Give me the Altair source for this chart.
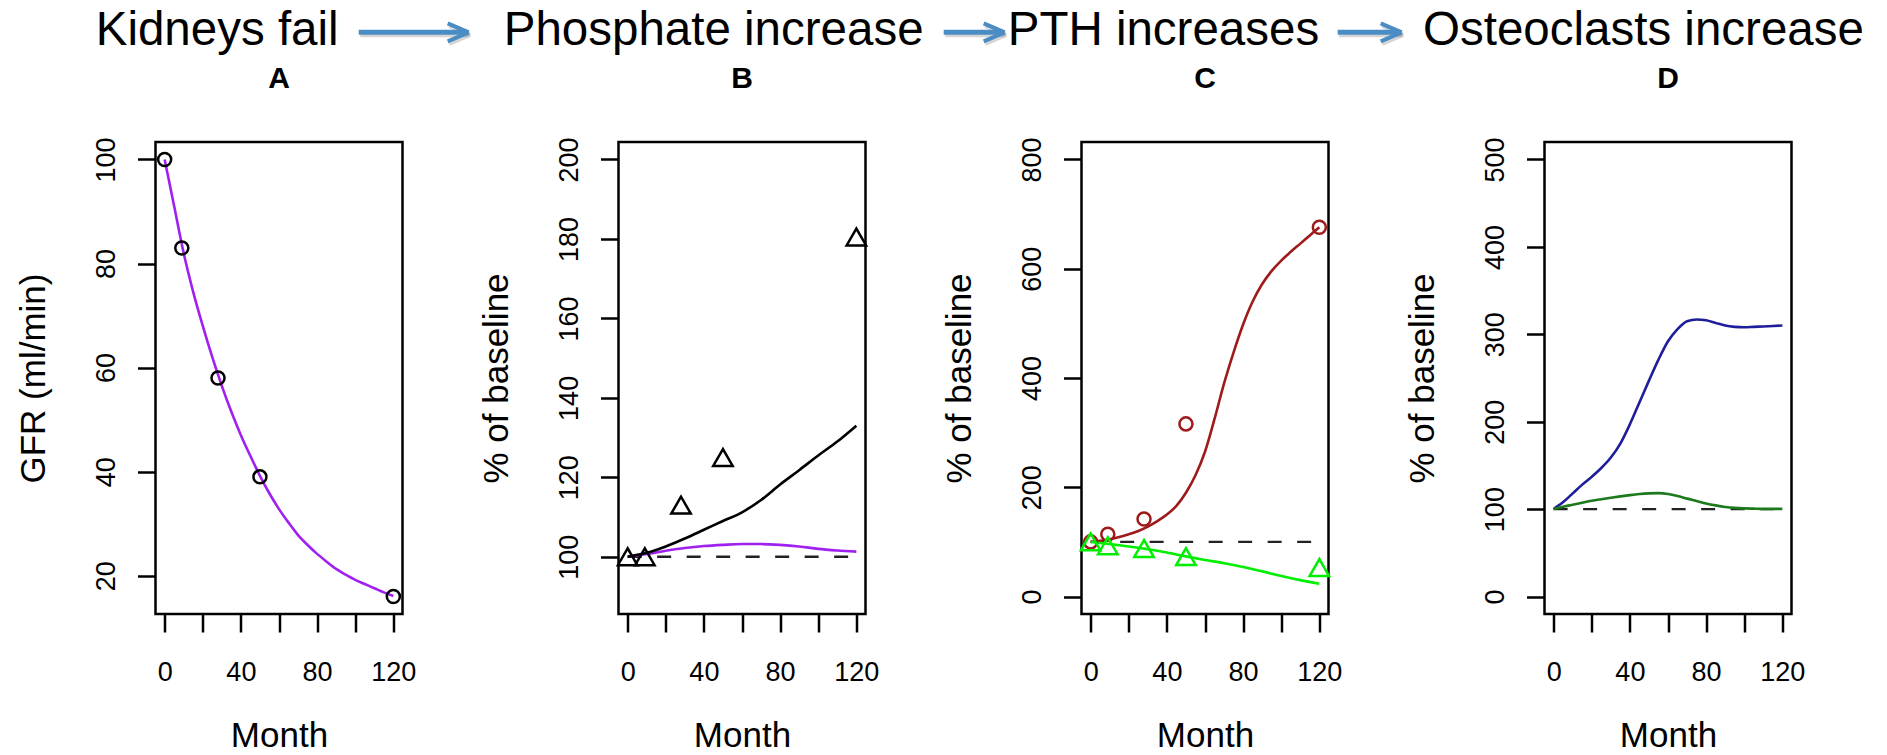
import altair as alt
import pandas as pd

FONT = "Liberation Sans"

# ---------------- data ----------------
obs_months = [0, 9, 28, 50, 120]
gfr_obs = [100, 83, 58, 39, 16]
phosphate_obs = [100, 100, 113, 125, 180.5]
pth_obs = [100, 114, 142, 316, 676]
calcium_obs = [100, 93, 88, 73, 53]

fine_months = [0, 5, 10, 15, 20, 25, 30, 35, 40, 45, 50, 55, 60,
               65, 70, 75, 80, 85, 90, 95, 100, 105, 110, 115, 120]
gfr_fit = [100, 91, 82, 74.5, 68, 62, 56.5, 51.5, 47, 43, 39.2, 35.8, 32.8,
           30.2, 27.8, 25.9, 24.2, 22.7, 21.3, 20.2, 19.2, 18.4, 17.6, 16.8, 16.1]
pth_fit = [100, 102, 105, 109, 114, 120, 128, 138, 150, 166, 190, 222, 265,
           325, 390, 447, 498, 540, 572, 596, 615, 631, 646, 661, 676]
osteoclast_fit = [100, 108, 118, 128, 137, 147, 159, 175, 197, 222, 247, 271, 292,
                  306, 315, 317, 316, 313, 310, 308.5, 308, 308.5, 309, 309.5, 310]
osteoblast_fit = [100, 102.7, 105, 107.3, 109.5, 111.3, 113, 114.6, 116, 117.2, 118, 118.3, 117.3,
                  115, 112, 109.3, 106.5, 104.3, 102.5, 101.4, 100.8, 100.5, 100.3, 100.3, 100.3]

coarse_months = [0, 10, 20, 30, 40, 50, 60, 70, 80, 90, 100, 110, 120]
phosphate_fit = [100, 101, 102.6, 104.6, 106.8, 109, 111.2, 114.3, 118.2, 121.8, 125.5, 129, 133]
phosphate_gfr_fit = [100, 100.7, 101.5, 102.2, 102.7, 103.0, 103.2, 103.2, 103.0, 102.6, 102.0, 101.6, 101.3]
calcium_fit = [100, 96, 91.5, 86.5, 80.5, 73.5, 67, 61, 54, 46, 37.5, 30, 23.5]

baseline_months = [0, 120]
baseline_vals = [100, 100]

header_texts = ["Kidneys fail", "Phosphate increase", "PTH increases", "Osteoclasts increase"]
panel_letters = ["A", "B", "C", "D"]
x_ticks = [0, 20, 40, 60, 80, 100, 120]

# ---------------- layout ----------------
W, H = 247, 472
XDOM = [-4.8, 124.8]
ARROW = "#4A8CC4"
PURPLE = "#A020F0"
HEAD_SIZE = 47.5
SHIFT = -2.5


def xenc():
    return alt.X("month:Q", scale=alt.Scale(domain=XDOM, nice=False, zero=False),
                 axis=alt.Axis(values=x_ticks,
                               labelExpr="datum.value % 40 === 0 ? datum.label : ''",
                               title="Month", titleX=W / 2, titleY=132, titleAngle=0,
                               titleAlign="center", titleBaseline="alphabetic",
                               labelPadding=48, labelBaseline="alphabetic", labelAlign="center"))


def yenc(dom, ticks, title):
    return alt.Y("value:Q", scale=alt.Scale(domain=dom, nice=False, zero=False),
                 axis=alt.Axis(values=ticks, title=title,
                               labelAngle=270, labelAlign="center", labelBaseline="alphabetic",
                               labelPadding=23,
                               titleAngle=270, titleX=-111, titleY=H / 2,
                               titleAlign="center", titleBaseline="alphabetic"))


def line(months, vals, y, color, width=2.6, dash=None):
    df = pd.DataFrame({"month": months, "value": vals})
    kw = dict(color=color, strokeWidth=width, interpolate="monotone")
    if dash:
        kw["strokeDash"] = dash
        kw["interpolate"] = "linear"
    return alt.Chart(df).mark_line(**kw).encode(x=xenc(), y=y)


def points(months, vals, y, color, shape):
    df = pd.DataFrame({"month": months, "value": vals})
    size = 170 if shape == "circle" else 380
    return alt.Chart(df).mark_point(shape=shape, filled=False, size=size,
                                    strokeWidth=2.5, color=color, opacity=1).encode(x=xenc(), y=y)


def dashed(y):
    return line(baseline_months, baseline_vals, y, "#222222", width=2.4, dash=[14, 15.5])


def text_layer(txt, x, y, size, weight="normal", align="left"):
    return alt.Chart(pd.DataFrame({"t": [txt]})).mark_text(
        font=FONT, fontSize=size, fontWeight=weight, align=align,
        baseline="alphabetic", color="black").encode(
        x=alt.value(x), y=alt.value(y), text="t:N")


def seg(x0, y0, x1, y1, color, width, opacity=1.0):
    return alt.Chart(pd.DataFrame({"a": [0]})).mark_rule(
        color=color, strokeWidth=width, strokeCap="butt", opacity=opacity).encode(
        x=alt.value(x0), y=alt.value(y0), x2=alt.value(x1), y2=alt.value(y1))


def arrow(x0, x1, y=-109.7):
    x0 += SHIFT
    x1 += SHIFT
    layers = []
    for dx, dy, col, op in [(1.5, 2.5, "#888888", 0.35), (0, 0, ARROW, 1.0)]:
        layers.append(seg(x0 + dx, y + dy, x1 - 2 + dx, y + dy, col, 5, op))
        layers.append(seg(x1 + dx, y + dy, x1 - 21 + dx, y - 9 + dy, col, 4, op))
        layers.append(seg(x1 + dx, y + dy, x1 - 21 + dx, y + 9 + dy, col, 4, op))
    return layers


def header(txt, x):
    return text_layer(txt, x + SHIFT, -97.3, HEAD_SIZE)


def label(letter):
    return text_layer(letter, W / 2, -54.5, 30, weight="bold", align="center")


# Panel A
yA = yenc([12.64, 103.36], [20, 40, 60, 80, 100], "GFR (ml/min)")
pA = alt.layer(
    line(fine_months, gfr_fit, yA, PURPLE),
    points(obs_months, gfr_obs, yA, "black", "circle"),
    label(panel_letters[0]),
    header(header_texts[0], -57.3),
    *arrow(205.7, 315.7),
).properties(width=W, height=H)

# Panel B
yB = yenc([85.6, 204.4], [100, 120, 140, 160, 180, 200], "% of baseline")
pB = alt.layer(
    dashed(yB),
    line(coarse_months, phosphate_gfr_fit, yB, PURPLE),
    line(coarse_months, phosphate_fit, yB, "black"),
    points(obs_months, phosphate_obs, yB, "black", "triangle-up"),
    label(panel_letters[1]),
    header(header_texts[1], -112.3),
    *arrow(327.7, 388.7),
).properties(width=W, height=H)

# Panel C
yC = yenc([-32, 832], [0, 200, 400, 600, 800], "% of baseline")
pC = alt.layer(
    dashed(yC),
    line(fine_months, pth_fit, yC, "#9E1B1B"),
    line(coarse_months, calcium_fit, yC, "#00EE00"),
    points(obs_months, pth_obs, yC, "#9E1B1B", "circle"),
    points(obs_months, calcium_obs, yC, "#00EE00", "triangle-up"),
    label(panel_letters[2]),
    header(header_texts[2], -71.3),
    *arrow(258.7, 322.7),
).properties(width=W, height=H)

# Panel D
yD = yenc([-20, 520], [0, 100, 200, 300, 400, 500], "% of baseline")
pD = alt.layer(
    dashed(yD),
    line(fine_months, osteoclast_fit, yD, "#1E1E9A"),
    line(fine_months, osteoblast_fit, yD, "#1C7A1C"),
    label(panel_letters[3]),
    header(header_texts[3], -119.0),
).properties(width=W, height=H)

chart = alt.hconcat(pA, pB, pC, pD, spacing=216, bounds="flush").properties(
    padding={"left": 6.5, "top": -3, "right": 5, "bottom": 0}
).configure(
    font=FONT, background="white"
).configure_view(
    stroke="black", strokeWidth=2.5
).configure_axis(
    tickSize=18, tickWidth=2.5, tickColor="black", domain=False, grid=False,
    labelFont=FONT, titleFont=FONT, labelFontSize=27, titleFontSize=35,
    labelColor="black", titleColor="black", titleFontWeight="normal",
    labelFlush=False, labelOverlap=False
)

chart.save("out.html", embed_options={"renderer": "svg", "actions": False})
